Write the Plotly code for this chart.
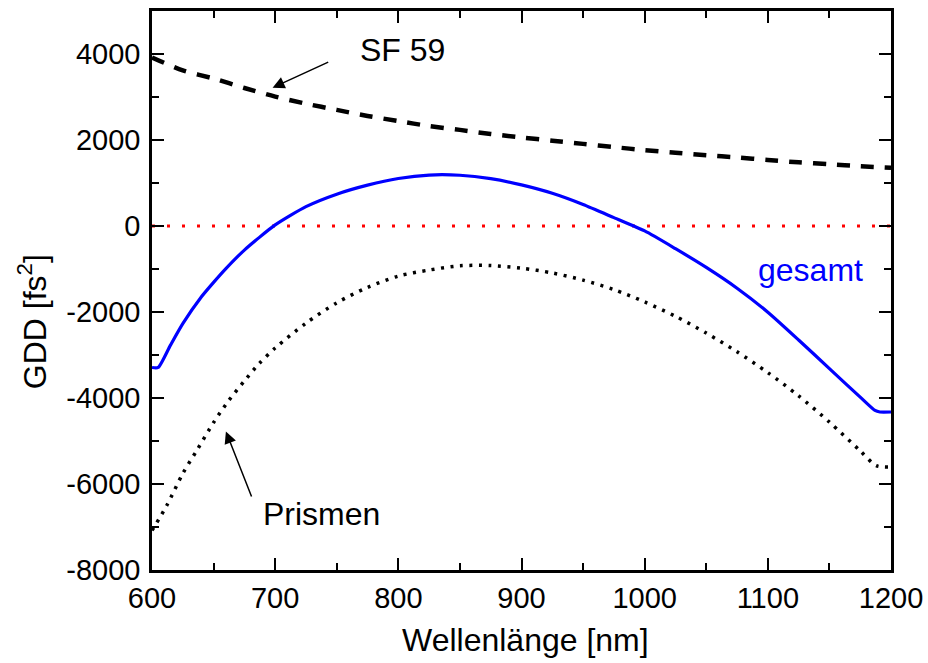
import plotly.graph_objects as go

# ---- data ----
sf59_x = [600, 625, 650, 675, 700, 725, 750, 775, 800, 825, 850, 875, 900,
          925, 950, 975, 1000, 1025, 1050, 1075, 1100, 1125, 1150, 1175, 1200]
sf59_y = [3920, 3620, 3430, 3210, 3010, 2845, 2700, 2560, 2440, 2325, 2235, 2140, 2060,
          1985, 1910, 1835, 1765, 1705, 1645, 1595, 1535, 1480, 1435, 1390, 1355]

gesamt_x = [600, 605, 615, 625, 640, 650, 660, 675, 700, 725, 750, 775, 800, 825, 850,
            875, 900, 925, 950, 975, 1000, 1025, 1050, 1075, 1100, 1125, 1150, 1175, 1187, 1191, 1200]
gesamt_y = [-3290, -3290, -2770, -2270, -1650, -1310, -990, -560, 25, 450, 740, 950, 1105, 1185, 1180,
            1100, 955, 760, 500, 195, -115, -527, -963, -1446, -2004, -2650, -3317, -3980, -4290, -4326, -4326]

prism_x = [600, 612, 625, 637, 650, 662, 675, 687, 700, 725, 750, 775, 800, 825, 850, 875, 900,
           925, 950, 975, 1000, 1025, 1050, 1075, 1100, 1125, 1150, 1175, 1188, 1200]
prism_y = [-7080, -6500, -5755, -5190, -4570, -4070, -3603, -3200, -2838, -2259, -1786, -1428, -1165,
           -1024, -925, -920, -980, -1092, -1258, -1478, -1765, -2100, -2490, -2925, -3410, -3950,
           -4560, -5230, -5574, -5605]

zero_x = [600, 1200]
zero_y = [0, 0]

x_ticks = [600, 700, 800, 900, 1000, 1100, 1200]
x_ticktext = ["600", "700", "800", "900", "1000", "1100", "1200"]
y_ticks = [-8000, -6000, -4000, -2000, 0, 2000, 4000]
y_ticktext = ["-8000", "-6000", "-4000", "-2000", "0", "2000", "4000"]

FONT = "Arial, 'Liberation Sans', sans-serif"

fig = go.Figure()
fig.add_trace(go.Scatter(x=zero_x, y=zero_y, mode="lines",
                         line=dict(color="#ff0000", width=3, dash="3px,12px"),
                         showlegend=False, hoverinfo="skip"))
fig.add_trace(go.Scatter(x=prism_x, y=prism_y, mode="lines",
                         line=dict(color="black", width=3.5, dash="3px,6.5px", shape="spline", smoothing=0.8),
                         showlegend=False))
fig.add_trace(go.Scatter(x=sf59_x, y=sf59_y, mode="lines",
                         line=dict(color="black", width=4.5, dash="13px,11px", shape="spline", smoothing=0.8),
                         showlegend=False))
fig.add_trace(go.Scatter(x=gesamt_x, y=gesamt_y, mode="lines",
                         line=dict(color="#0000ff", width=3.2, shape="spline", smoothing=0.6),
                         showlegend=False))

axis_common = dict(
    showgrid=False, zeroline=False, showline=True, linecolor="black", linewidth=2.5,
    mirror="allticks", ticks="inside", ticklen=12, tickwidth=2, tickcolor="black",
    tickfont=dict(family=FONT, size=29, color="black"), automargin=False,
)

fig.update_xaxes(range=[600, 1200], tickvals=x_ticks, ticktext=x_ticktext, ticklabelstandoff=0,
                 minor=dict(dtick=50, ticks="inside", ticklen=7, tickwidth=2, tickcolor="black", showgrid=False),
                 **axis_common)
fig.update_yaxes(range=[-8000, 5000], tickvals=y_ticks, ticktext=y_ticktext, ticklabelstandoff=3,
                 minor=dict(dtick=1000, ticks="inside", ticklen=7, tickwidth=2, tickcolor="black", showgrid=False),
                 **axis_common)

ann_font = dict(family=FONT, size=32, color="black")
annotations = [
    dict(text="Wellenlänge [nm]", xref="paper", yref="paper", x=0.5054, y=-0.1252,
         xanchor="center", yanchor="middle", showarrow=False, font=ann_font),
    dict(text="GDD [fs<sup>2</sup>]", xref="paper", yref="paper", x=-0.1628, y=0.4445,
         xanchor="center", yanchor="middle", showarrow=False, textangle=-90, font=ann_font),
    dict(text="SF 59", x=803, y=4086, xref="x", yref="y", showarrow=False,
         xanchor="center", yanchor="middle", font=ann_font),
    dict(text="Prismen", x=738, y=-6707, xref="x", yref="y", showarrow=False,
         xanchor="center", yanchor="middle", font=ann_font),
    dict(text="gesamt", x=1135, y=-1030, xref="x", yref="y", showarrow=False,
         xanchor="center", yanchor="middle", font=dict(family=FONT, size=32, color="#0000ff")),
    dict(text="", x=697.9, y=3216, ax=744.3, ay=3828, xref="x", yref="y", axref="x", ayref="y",
         showarrow=True, arrowhead=2, arrowsize=1.6, arrowwidth=1.5, arrowcolor="black", standoff=0, startstandoff=0),
    dict(text="", x=660, y=-4777, ax=681.3, ay=-6326, xref="x", yref="y", axref="x", ayref="y",
         showarrow=True, arrowhead=2, arrowsize=1.6, arrowwidth=1.5, arrowcolor="black", standoff=0, startstandoff=0),
]

fig.update_layout(
    width=928, height=663,
    margin=dict(l=152, r=37, t=11, b=93),
    paper_bgcolor="white", plot_bgcolor="white",
    font=dict(family=FONT, color="black"),
    annotations=annotations,
    showlegend=False,
)

fig.write_html("out.html")
